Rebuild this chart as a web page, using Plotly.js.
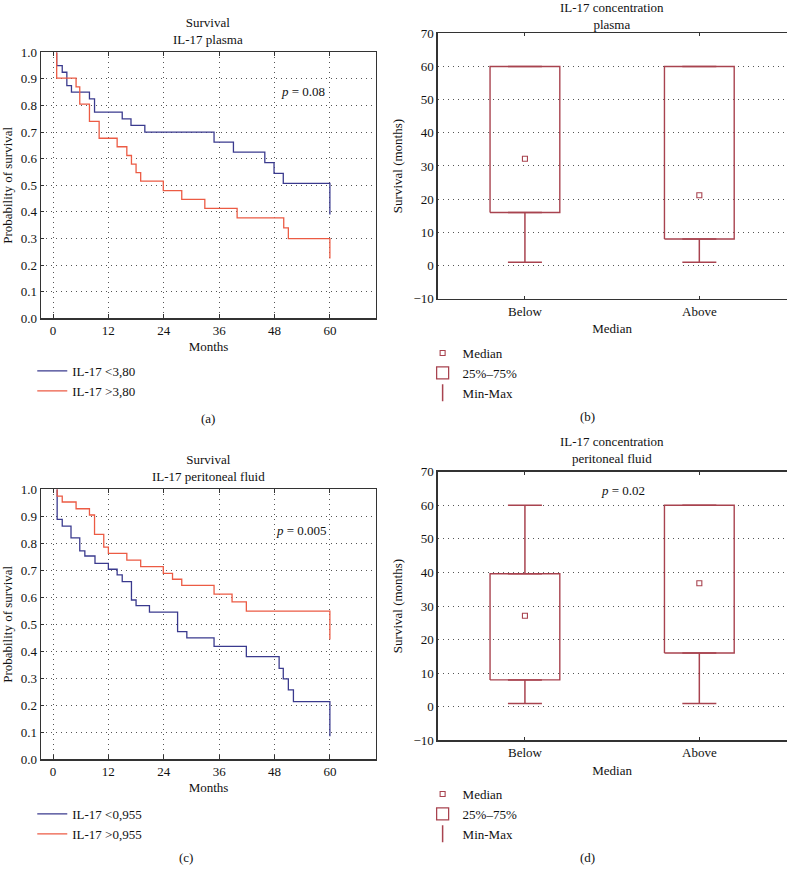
<!DOCTYPE html>
<html>
<head>
<meta charset="utf-8">
<script src="https://cdn.plot.ly/plotly-3.0.1.min.js"></script>
<style>html,body{margin:0;padding:0;background:#fff;}#chart{width:787px;height:876px;}</style>
</head>
<body>
<div id="chart"></div>
<script>
// ---------- DATA ----------
const monthTicks = [0, 12, 24, 36, 48, 60];

// (a) IL-17 plasma, Kaplan-Meier
const plasmaLowTime  = [0.8, 0.8, 2.0, 3.0, 4.0, 7.9, 9.0, 15.0, 16.9, 19.9, 34.9, 39.1, 45.9, 47.9, 49.9, 60];
const plasmaLowSurv  = [1.0, 0.95, 0.925, 0.875, 0.85, 0.825, 0.775, 0.75, 0.725, 0.70, 0.662, 0.625, 0.585, 0.545, 0.507, 0.39];
const plasmaHighTime = [0.8, 0.8, 5.0, 5.8, 7.9, 10.0, 13.9, 16.0, 17.0, 18.0, 19.0, 23.9, 27.9, 32.9, 39.9, 50.0, 51.0, 60];
const plasmaHighSurv = [1.0, 0.903, 0.87, 0.805, 0.74, 0.677, 0.645, 0.612, 0.58, 0.548, 0.516, 0.48, 0.447, 0.413, 0.378, 0.34, 0.30, 0.225];

// (c) IL-17 peritoneal fluid, Kaplan-Meier
const periLowTime  = [0.9, 0.9, 2.0, 3.9, 5.8, 6.9, 9.1, 12.0, 13.9, 15.0, 17.0, 18.0, 20.9, 27.0, 29.0, 34.9, 41.9, 49.0, 49.9, 51.0, 52.1, 60];
const periLowSurv  = [1.0, 0.889, 0.864, 0.82, 0.772, 0.753, 0.726, 0.704, 0.683, 0.658, 0.59, 0.569, 0.545, 0.473, 0.45, 0.418, 0.38, 0.337, 0.298, 0.257, 0.214, 0.085];
const periHighTime = [0.9, 0.9, 2.0, 5.0, 7.9, 9.0, 11.0, 12.0, 16.0, 19.0, 23.9, 25.9, 27.9, 34.9, 38.8, 41.9, 60];
const periHighSurv = [1.0, 0.975, 0.953, 0.928, 0.905, 0.833, 0.786, 0.763, 0.738, 0.714, 0.689, 0.667, 0.644, 0.612, 0.583, 0.549, 0.444];

// (b) & (d) box summaries
const boxCats = ['Below', 'Above'];
const plasmaMin = [1, 1],  plasmaQ1 = [16, 8],  plasmaMed = [32.2, 21.2], plasmaQ3 = [60, 60],   plasmaMax = [60, 60];
const periMin   = [1, 1],  periQ1   = [8, 16],  periMed   = [27.1, 36.8], periQ3   = [39.6, 60], periMax   = [60, 60];

const legendLabelsA = ['IL-17 &lt;3,80', 'IL-17 &gt;3,80'];
const legendLabelsC = ['IL-17 &lt;0,955', 'IL-17 &gt;0,955'];
const boxLegendLabels = ['Median', '25%\u201375%', 'Min-Max'];

// ---------- STYLE ----------
const FONT = '"Liberation Serif", "DejaVu Serif", serif';
const FS = 13;
const BLUE = '#3a3a8e';
const RED = '#ec5b44';
const BOX = '#a8434f';
const FRAME = '#333333';
const GRID = '#555555';
const DASH = '1px,4px';
const BOXHALF = 0.2;
const CAPPX = 17;

const traces = [];

function kmTrace(t, s, color, name, xa, ya, leg) {
  return {x: t, y: s, type: 'scatter', mode: 'lines', line: {shape: 'hv', color: color, width: 1.3},
          name: name, xaxis: xa, yaxis: ya, legend: leg, hoverinfo: 'skip'};
}
traces.push(kmTrace(plasmaLowTime, plasmaLowSurv, BLUE, legendLabelsA[0], 'x', 'y', 'legend'));
traces.push(kmTrace(plasmaHighTime, plasmaHighSurv, RED, legendLabelsA[1], 'x', 'y', 'legend'));
traces.push(kmTrace(periLowTime, periLowSurv, BLUE, legendLabelsC[0], 'x3', 'y3', 'legend3'));
traces.push(kmTrace(periHighTime, periHighSurv, RED, legendLabelsC[1], 'x3', 'y3', 'legend3'));

function boxTraces(q1, med, q3, mn, mx, xa, ya, leg) {
  const bx = [], by = [];
  q1.forEach((v, i) => {
    bx.push(i - BOXHALF, i + BOXHALF, i + BOXHALF, i - BOXHALF, i - BOXHALF, null);
    by.push(q1[i], q1[i], q3[i], q3[i], q1[i], null);
  });
  const idx = q1.map((v, i) => i);
  const zeros = q1.map(() => 0);
  const out = [];
  out.push({x: idx, y: q1, type: 'scatter', mode: 'markers', marker: {opacity: 0, size: 1},
    error_y: {type: 'data', symmetric: false, array: zeros, arrayminus: q1.map((v, i) => v - mn[i]),
              width: CAPPX, thickness: 1.5, color: BOX},
    xaxis: xa, yaxis: ya, showlegend: false, hoverinfo: 'skip'});
  out.push({x: idx, y: q3, type: 'scatter', mode: 'markers', marker: {opacity: 0, size: 1},
    error_y: {type: 'data', symmetric: false, array: q3.map((v, i) => mx[i] - v), arrayminus: zeros,
              width: CAPPX, thickness: 1.5, color: BOX},
    xaxis: xa, yaxis: ya, showlegend: false, hoverinfo: 'skip'});
  out.push({x: bx, y: by, type: 'scatter', mode: 'lines', line: {color: BOX, width: 1.4},
    xaxis: xa, yaxis: ya, showlegend: false, hoverinfo: 'skip'});
  out.push({x: idx, y: med, type: 'scatter', mode: 'markers', name: boxLegendLabels[0],
    marker: {symbol: 'square-open', size: 5, color: BOX, line: {width: 1.1, color: BOX}},
    xaxis: xa, yaxis: ya, legend: leg, hoverinfo: 'skip'});
  out.push({x: [null], y: [null], type: 'scatter', mode: 'markers', name: boxLegendLabels[1],
    marker: {symbol: 'square-open', size: 12, color: BOX, line: {width: 1.3, color: BOX}},
    xaxis: xa, yaxis: ya, legend: leg, hoverinfo: 'skip'});
  out.push({x: [null], y: [null], type: 'scatter', mode: 'markers', name: boxLegendLabels[2],
    marker: {symbol: 'line-ns-open', size: 12, color: BOX, line: {width: 1.5, color: BOX}},
    xaxis: xa, yaxis: ya, legend: leg, hoverinfo: 'skip'});
  return out;
}
traces.push(...boxTraces(plasmaQ1, plasmaMed, plasmaQ3, plasmaMin, plasmaMax, 'x2', 'y2', 'legend2'));
traces.push(...boxTraces(periQ1, periMed, periQ3, periMin, periMax, 'x4', 'y4', 'legend4'));

// ---------- LAYOUT ----------
const tickFont = {family: FONT, size: FS, color: '#111'};
function kmX(dom, anchor) {
  return {domain: dom, anchor: anchor, range: [-2.6, 70], tickvals: monthTicks, showgrid: true,
    griddash: DASH, gridcolor: GRID, gridwidth: 1, zeroline: false, showline: true, linecolor: FRAME,
    linewidth: 1.3, mirror: 'ticks', ticks: 'inside', ticklen: 4, tickcolor: FRAME, tickfont: tickFont,
    title: {text: 'Months', font: tickFont, standoff: 4}};
}
function kmY(dom, anchor) {
  return {domain: dom, anchor: anchor, range: [0, 1], dtick: 0.1, tick0: 0, tickformat: '.1f', showgrid: true,
    griddash: DASH, gridcolor: GRID, gridwidth: 1, zeroline: false, showline: true, linecolor: FRAME,
    linewidth: 1.3, mirror: true, ticks: 'inside', ticklen: 3, tickcolor: FRAME, tickfont: tickFont,
    title: {text: 'Probability of survival', font: tickFont, standoff: 5}};
}
function bxX(dom, anchor) {
  return {domain: dom, anchor: anchor, range: [-0.5, 1.5], tickvals: [0, 1], ticktext: boxCats, showgrid: false,
    zeroline: false, showline: true, linecolor: FRAME, linewidth: 1.3, mirror: 'ticks', ticks: 'inside',
    ticklen: 3, tickcolor: FRAME, tickfont: tickFont, title: {text: 'Median', font: tickFont, standoff: 6}};
}
function bxY(dom, anchor) {
  return {domain: dom, anchor: anchor, range: [-10, 70], dtick: 10, tick0: 0, showgrid: true, griddash: DASH,
    gridcolor: GRID, gridwidth: 1, zeroline: false, showline: true, linecolor: FRAME, linewidth: 1.3,
    mirror: true, ticks: '', tickfont: tickFont,
    title: {text: 'Survival (months)', font: tickFont, standoff: 8}};
}
const midTicks = [0.05, 0.15, 0.25, 0.35, 0.45, 0.55, 0.65, 0.75, 0.85, 0.95];
function sideY(over, dom) {
  return {overlaying: over, side: 'right', range: [0, 1], tickvals: midTicks, ticks: 'inside', ticklen: 3,
    tickcolor: FRAME, showticklabels: false, showgrid: false, zeroline: false, showline: false, domain: dom};
}

const domA = [0.6366, 0.9403], domC = [0.1332, 0.4414];
const domB = [0.659, 0.962], domD = [0.1549, 0.4615];
const xKM = [0.0521, 0.4778], xBX = [0.5562, 0.9994];

function legendAt(x, y) {
  return {x: x, y: y, xanchor: 'left', yanchor: 'top', font: {family: FONT, size: FS, color: '#111'},
    bgcolor: 'rgba(0,0,0,0)', borderwidth: 0, tracegroupgap: 0, traceorder: 'normal', itemclick: false};
}
function ann(text, x, y, extra) {
  return Object.assign({text: text, x: x, y: y, xref: 'paper', yref: 'paper', showarrow: false,
    font: {family: FONT, size: FS, color: '#111'}, xanchor: 'center', yanchor: 'middle'}, extra || {});
}

const layout = {
  width: 787, height: 876, margin: {l: 0, r: 0, t: 0, b: 0}, paper_bgcolor: '#fff', plot_bgcolor: '#fff',
  font: {family: FONT, size: FS, color: '#111'}, showlegend: true,
  xaxis: kmX(xKM, 'y'), yaxis: kmY(domA, 'x'),
  xaxis2: bxX(xBX, 'y2'), yaxis2: bxY(domB, 'x2'),
  xaxis3: kmX(xKM, 'y3'), yaxis3: kmY(domC, 'x3'),
  xaxis4: bxX(xBX, 'y4'), yaxis4: bxY(domD, 'x4'),
  yaxis5: sideY('y', domA), yaxis6: sideY('y3', domC),
  legend: legendAt(0.041, 1 - 356 / 876),
  legend2: legendAt(0.537, 1 - 338 / 876),
  legend3: legendAt(0.041, 1 - 799 / 876),
  legend4: legendAt(0.537, 1 - 779 / 876),
  annotations: [
    ann('Survival<br>IL-17 plasma', 0.2649, 1 - 31 / 876),
    ann('IL-17 concentration<br>plasma', 0.7779, 1 - 16 / 876),
    ann('Survival<br>IL-17 peritoneal fluid', 0.2649, 1 - 467.8 / 876),
    ann('IL-17 concentration<br>peritoneal fluid', 0.7779, 1 - 449.5 / 876),
    ann('<i>p</i> = 0.08', 54.1, 0.852, {xref: 'x', yref: 'y'}),
    ann('<i>p</i> = 0.005', 53.9, 0.846, {xref: 'x3', yref: 'y3'}),
    ann('<i>p</i> = 0.02', 0.562, 64.3, {xref: 'x4', yref: 'y4'}),
    ann('(a)', 208 / 787, 1 - 418 / 876),
    ann('(b)', 587 / 787, 1 - 416.7 / 876),
    ann('(c)', 186 / 787, 1 - 857.3 / 876),
    ann('(d)', 587 / 787, 1 - 857.7 / 876)
  ]
};

Plotly.newPlot('chart', traces, layout, {staticPlot: true, displayModeBar: false});
</script>
</body>
</html>
